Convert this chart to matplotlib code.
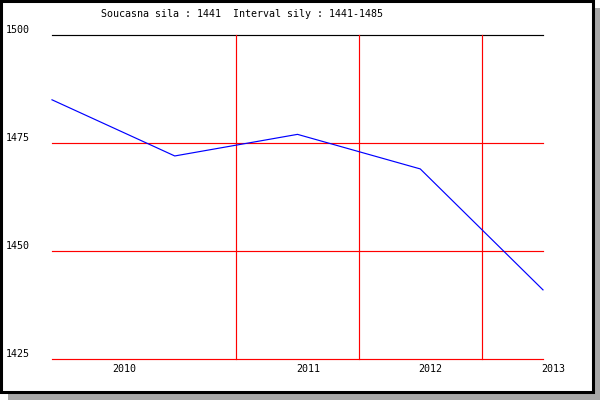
import matplotlib
matplotlib.use("Agg")
import matplotlib.pyplot as plt
from matplotlib.patches import Rectangle
from matplotlib.transforms import blended_transform_factory

# data
point_index = [0, 1, 2, 3, 4]
values = [1485, 1472, 1477, 1469, 1441]
y_ticks = [1500, 1475, 1450, 1425]
x_labels = ["2010", "2011", "2012", "2013"]
x_label_pos = [0.59, 2.09, 3.08, 4.08]
year_bounds = [1.5, 2.5, 3.5]
title = "Soucasna sila : 1441  Interval sily : 1441-1485"

W, H = 600, 400
fig = plt.figure(figsize=(6, 4), dpi=100)
fig.patch.set_facecolor("white")

# shadow and frame
fig.add_artist(Rectangle((8 / W, 0), (W - 8) / W, 7 / H, transform=fig.transFigure,
                         facecolor="#a8a8a8", edgecolor="none", zorder=-2))
fig.add_artist(Rectangle((594 / W, 0), 6 / W, (H - 8) / H, transform=fig.transFigure,
                         facecolor="#a8a8a8", edgecolor="none", zorder=-2))
fig.add_artist(Rectangle((1 / W, 8 / H), 592 / W, 391 / H, transform=fig.transFigure,
                         facecolor="white", edgecolor="black", linewidth=2.2, zorder=-1))

ax = fig.add_axes([52 / W, 1 - 359 / H, (543 - 52) / W, (359 - 35) / H])
ax.set_zorder(2)
ax.patch.set_visible(False)
ax.set_xlim(0, 4)
ax.set_ylim(1425, 1500)
for s in ax.spines.values():
    s.set_visible(False)
ax.set_xticks([])
ax.set_yticks([])

for yv in y_ticks:
    col = "black" if yv == max(y_ticks) else "#ff0000"
    ax.axhline(yv, color=col, linewidth=0.85, clip_on=False, zorder=2)
for xb in year_bounds:
    ax.axvline(xb, color="#ff0000", linewidth=0.85, clip_on=False, zorder=2)

ax.plot(point_index, values, color="#0000ff", linewidth=0.85, zorder=3, clip_on=False)

mono = "DejaVu Sans Mono"
tr_y = blended_transform_factory(fig.transFigure, ax.transData)
for yv in y_ticks:
    ax.text(6 / W, yv, str(yv), transform=tr_y, ha="left", va="bottom",
            fontsize=7.2, family=mono, color="black")
tr_x = blended_transform_factory(ax.transData, fig.transFigure)
for xp, lab in zip(x_label_pos, x_labels):
    ax.text(xp, 1 - 369 / H, lab, transform=tr_x, ha="center", va="center",
            fontsize=7.2, family=mono, color="black")

fig.text(101 / W, 1 - 14 / H, title, ha="left", va="center", fontsize=7.2,
         family=mono, color="black", zorder=3)

fig.savefig("out.png", dpi=100)
